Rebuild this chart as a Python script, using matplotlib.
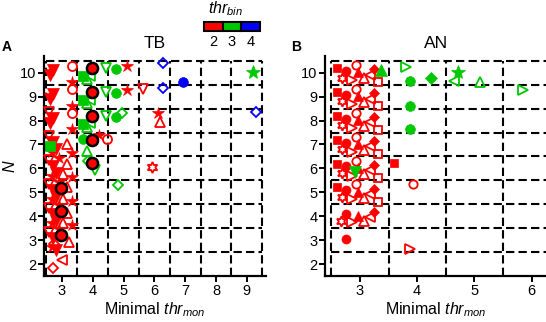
import matplotlib
matplotlib.use("Agg")
import matplotlib.pyplot as plt
from matplotlib.patches import Rectangle

plt.rcParams['font.family'] = ['Liberation Sans', 'DejaVu Sans']
plt.rcParams['mathtext.fontset'] = 'custom'
plt.rcParams['mathtext.rm'] = 'Liberation Sans'
plt.rcParams['mathtext.it'] = 'Liberation Sans:italic'

# colour of each thr_bin
bins = [2, 3, 4]
bin_colors = ['#ff0000', '#00c800', '#0000ff']

# ---- panel A (TB): points per marker group, (x = minimal thr_mon, y = N)
a_red_v_fill = [(2.72, 10.12), (2.63, 9.9), (2.72, 9.12), (2.63, 8.9), (2.72, 8.12), (2.63, 7.9),
                (2.72, 7.1), (2.82, 6.8), (2.72, 6.1), (2.82, 5.8), (2.72, 5.1), (2.82, 4.8),
                (2.72, 4.1), (2.82, 3.8), (2.72, 3.1), (2.82, 2.6)]
a_red_v_open = [(2.58, 8.35), (2.58, 7.35), (2.58, 6.35), (2.58, 5.35), (2.58, 4.35), (2.58, 3.35),
                (5.64, 9.32)]
a_red_star = [(3.33, 9.63), (3.33, 8.63), (3.33, 7.63), (3.33, 6.63), (3.33, 5.63), (3.33, 4.63),
              (3.33, 3.63), (2.68, 6.7), (2.68, 5.7), (2.68, 4.7), (2.68, 3.7), (2.68, 2.7),
              (2.9, 6.45), (2.9, 5.45), (2.9, 4.45), (2.9, 3.45),
              (5.1, 10.3), (5.1, 9.29), (6.13, 8.31), (4.2, 7.38)]
a_red_o_open = [(3.33, 10.3), (3.33, 9.3), (3.33, 8.3), (4.45, 7.22)]
a_red_up_open = [(3.18, 7.0), (3.18, 6.2), (3.15, 5.24), (3.18, 4.15), (3.22, 2.94), (3.05, 5.75),
                 (3.05, 4.7), (3.05, 3.7), (6.18, 7.96)]
a_red_d_open = [(2.74, 2.85), (2.72, 1.83)]
a_red_left_open = [(3.0, 2.15)]
a_red_hex_open = [(5.91, 6.05)]
a_black_o = [(3.97, 10.2), (3.97, 9.2), (3.97, 8.2), (3.97, 7.2), (3.97, 6.22),
             (2.96, 5.2), (2.96, 4.2), (2.96, 3.2)]
a_green_s_fill = [(3.68, 9.85), (3.68, 8.85), (3.68, 7.85), (2.62, 6.92)]
a_green_up_open = [(3.82, 9.75), (3.82, 8.75), (3.82, 7.75), (3.82, 6.72)]
a_green_left_open = [(3.92, 9.88), (3.92, 8.88), (3.92, 7.88)]
a_green_o_fill = [(3.7, 7.25), (4.75, 10.15), (4.75, 9.15), (4.75, 8.15)]
a_green_v_open = [(4.42, 10.2), (4.42, 9.2), (4.42, 8.2), (4.07, 5.94)]
a_green_d_open = [(4.95, 8.33), (4.83, 5.31), (3.85, 6.3)]
a_green_star = [(9.21, 10.05)]
a_blue_d_open = [(6.29, 10.4), (6.29, 9.36), (9.3, 8.34)]
a_blue_o_fill = [(6.92, 9.6)]

# ---- panel B (AN)
b_red_s_fill = [(2.6, 10.2), (2.6, 9.2), (2.6, 8.2), (2.6, 7.2), (2.6, 6.2), (2.6, 5.24), (3.6, 6.22)]
b_red_hex_open = [(2.68, 9.8), (2.68, 8.8), (2.68, 7.8), (2.68, 6.8), (2.68, 5.8), (2.68, 4.8), (2.67, 3.8)]
b_red_o_fill = [(2.75, 10.08), (2.75, 9.08), (2.75, 8.08), (2.75, 7.08), (2.75, 6.08), (2.75, 5.08),
                (2.75, 4.1), (2.75, 3.05)]
b_red_o_open = [(2.93, 10.33), (2.93, 9.33), (2.93, 8.33), (2.93, 7.33), (2.93, 6.3), (2.93, 5.33),
                (3.93, 5.34)]
b_red_right_open = [(2.87, 9.7), (2.87, 8.7), (2.87, 7.7), (2.87, 6.7), (2.87, 5.7), (2.87, 4.7),
                    (2.87, 3.75), (3.87, 2.64)]
b_red_up_fill = [(2.97, 10.02), (2.97, 9.02), (2.97, 8.02), (2.97, 7.02), (2.97, 6.02), (2.97, 5.02),
                 (2.97, 4.0)]
b_red_up_open = [(3.07, 9.78), (3.07, 8.78), (3.07, 7.78), (3.07, 6.78), (3.07, 5.78), (3.07, 4.78),
                 (3.07, 3.82)]
b_red_left_open = [(3.17, 9.92), (3.17, 8.92), (3.17, 7.92), (3.17, 6.92), (3.17, 5.92), (3.17, 4.92),
                   (3.17, 3.95)]
b_red_d_fill = [(3.25, 10.15), (3.25, 9.15), (3.25, 8.15), (3.25, 7.15), (3.25, 6.15), (3.25, 5.15),
                (3.25, 4.18)]
b_red_s_open = [(3.31, 9.6), (3.31, 8.6), (3.31, 7.6), (3.31, 6.6), (3.31, 5.6), (3.31, 4.6)]
b_green_up_fill = [(3.36, 10.13)]
b_green_right_open = [(3.81, 10.26), (5.84, 9.29)]
b_green_o_fill = [(3.87, 9.64), (3.87, 8.62), (3.87, 7.64)]
b_green_d_fill = [(4.25, 9.8)]
b_green_star = [(4.71, 10.05)]
b_green_left_open = [(4.65, 9.67)]
b_green_up_open = [(5.1, 9.6)]
b_green_v_fill = [(2.92, 5.87)]

HEX = (6, 1, 0)

# (points, marker, bin, filled, size)
a_groups = [
    (a_red_v_open, 'v', 2, False, 7), (a_red_v_fill, 'v', 2, True, 9),
    (a_red_star, '*', 2, True, 9), (a_red_o_open, 'o', 2, False, 6.5),
    (a_red_up_open, '^', 2, False, 7.5), (a_red_d_open, 'D', 2, False, 5.5),
    (a_red_left_open, '<', 2, False, 7), (a_red_hex_open, HEX, 2, False, 8),
    (a_green_s_fill, 's', 3, True, 6.5), (a_green_up_open, '^', 3, False, 7.5),
    (a_green_left_open, '<', 3, False, 7), (a_green_o_fill, 'o', 3, True, 7),
    (a_green_v_open, 'v', 3, False, 7.5), (a_green_d_open, 'D', 3, False, 5.5),
    (a_green_star, '*', 3, True, 10), (a_blue_d_open, 'D', 4, False, 5.5),
    (a_blue_o_fill, 'o', 4, True, 7),
]
b_groups = [
    (b_red_s_fill, 's', 2, True, 6), (b_red_hex_open, HEX, 2, False, 7.5),
    (b_red_o_fill, 'o', 2, True, 6.5), (b_red_o_open, 'o', 2, False, 6),
    (b_red_right_open, '>', 2, False, 6.5), (b_red_up_fill, '^', 2, True, 7),
    (b_red_up_open, '^', 2, False, 7), (b_red_left_open, '<', 2, False, 6.5),
    (b_red_d_fill, 'D', 2, True, 5.5), (b_red_s_open, 's', 2, False, 5.5),
    (b_green_up_fill, '^', 3, True, 8), (b_green_right_open, '>', 3, False, 7.5),
    (b_green_o_fill, 'o', 3, True, 7), (b_green_d_fill, 'D', 3, True, 6),
    (b_green_star, '*', 3, True, 10), (b_green_left_open, '<', 3, False, 7.5),
    (b_green_up_open, '^', 3, False, 7.5), (b_green_v_fill, 'v', 3, True, 8),
]

W, H = 546, 322
fig = plt.figure(figsize=(W / 100, H / 100), dpi=100)


def px(x, y):
    return x / W, 1 - y / H


def setup(ax, xlim, xticks, xgrid, xmax_h):
    ax.set_xlim(*xlim)
    ax.set_ylim(1.5, 10.7)
    for s in ('top', 'right'):
        ax.spines[s].set_visible(False)
    for s in ('left', 'bottom'):
        ax.spines[s].set_linewidth(1.6)
    ax.set_xticks(xticks)
    ax.set_yticks(range(2, 11))
    ax.tick_params(direction='out', length=4, width=1.4, labelsize=10.5, pad=1.5)
    dash = (0, (4, 2))
    for g in xgrid:
        ax.plot([g, g], [1.5, 10.5], color='black', lw=1.5, ls=dash, zorder=1, clip_on=False)
    for gy in [2.5, 3.5, 4.5, 5.5, 6.5, 7.5, 8.5, 9.5, 10.5]:
        ax.plot([xgrid[0], xmax_h], [gy, gy], color='black', lw=1.5, ls=dash, zorder=1, clip_on=False)
    ax.set_xlabel(r'Minimal $\mathit{thr}_{\mathit{mon}}$', fontsize=11.5, labelpad=2)


def draw(ax, groups):
    for pts, mk, b, filled, ms in groups:
        c = bin_colors[bins.index(b)]
        xs = [p[0] for p in pts]
        ys = [p[1] for p in pts]
        if filled:
            ax.plot(xs, ys, ls='none', marker=mk, ms=ms, mfc=c, mec=c, mew=0.5, zorder=3, clip_on=False)
        else:
            ax.plot(xs, ys, ls='none', marker=mk, ms=ms, mfc='none', mec=c, mew=1.3, zorder=3, clip_on=False)


axA = fig.add_axes([44 / W, 46 / H, 222 / W, 220 / H])
setup(axA, (2.42, 9.62), range(3, 10), [2.5, 3.5, 4.5, 5.5, 6.5, 7.5, 8.5, 9.5], 9.5)
draw(axA, a_groups)
bx = [p[0] for p in a_black_o]
by = [p[1] for p in a_black_o]
axA.plot(bx, by, ls='none', marker='o', ms=8, mfc='#ff0000', mec='black', mew=1.8, zorder=4)
axA.set_ylabel('N', fontstyle='italic', fontsize=11.5, labelpad=2)

axB = fig.add_axes([325 / W, 46 / H, 221 / W, 220 / H])
setup(axB, (2.39, 6.25), range(3, 7), [2.5, 3.5, 4.5, 5.5], 6.25)
draw(axB, b_groups)

fig.text(*px(7, 47), 'A', fontsize=10, fontweight='bold', ha='center', va='center')
fig.text(*px(296, 47), 'B', fontsize=10, fontweight='bold', ha='center', va='center')
fig.text(*px(155, 43), 'TB', fontsize=12.5, ha='center', va='center')
fig.text(*px(436, 43), 'AN', fontsize=12.5, ha='center', va='center')

# thr_bin colour key
for i, c in enumerate(bin_colors):
    x0 = 204 + i * 18.7
    fig.patches.append(Rectangle(px(x0, 30.7), 18.7 / W, 9 / H, transform=fig.transFigure,
                                 facecolor=c, edgecolor='black', lw=1.5))
    fig.text(*px(x0 + 9.3, 42), str(bins[i]), fontsize=10.5, ha='center', va='center')
fig.text(*px(226, 9), r'$\mathit{thr}_{\mathit{bin}}$', fontsize=11.5, ha='center', va='center')

fig.savefig('out.png', dpi=100)
